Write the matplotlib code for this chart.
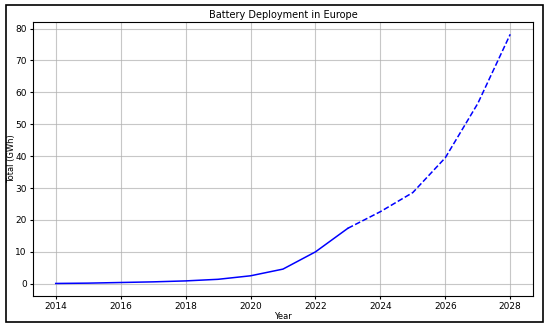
import matplotlib
matplotlib.use("Agg")
import matplotlib.pyplot as plt
from matplotlib.patches import Rectangle

# historical values (solid) and forecast (dashed)
years_hist = [2014, 2015, 2016, 2017, 2018, 2019, 2020, 2021, 2022, 2023]
total_hist = [0.1, 0.2, 0.4, 0.6, 0.9, 1.4, 2.5, 4.6, 10.0, 17.4]
years_fc = [2023, 2024, 2025, 2026, 2027, 2028]
total_fc = [17.4, 22.6, 28.6, 39.5, 56.5, 78.2]

fig = plt.figure(figsize=(5.5, 3.31), dpi=100)
ax = fig.add_axes([0.06, 0.106, 0.909, 0.828])

ax.plot(years_hist, total_hist, color="blue", linewidth=1.1)
ax.plot(years_fc, total_fc, color="blue", linestyle="--", linewidth=1.1)

ax.set_title("Battery Deployment in Europe", fontsize=7, pad=3)
ax.set_xlabel("Year", fontsize=6)
ax.set_ylabel("Total (GWh)", fontsize=6)
ax.yaxis.set_label_coords(-0.033, 0.5)
ax.xaxis.set_label_coords(0.5, -0.058)
ax.set_xticks([2014, 2016, 2018, 2020, 2022, 2024, 2026, 2028])
ax.set_yticks(range(0, 81, 10))
ax.tick_params(labelsize=6.5, length=2.5, pad=2)
ax.grid(True, color="#b0b0b0", alpha=0.7, linewidth=0.8)
for s in ax.spines.values():
    s.set_linewidth(0.8)

# outer frame around the whole figure
fig.patches.append(Rectangle((0.011, 0.027), 0.976, 0.958, transform=fig.transFigure,
                             fill=False, edgecolor="black", linewidth=1.2))

fig.savefig("out.png", dpi=100)
